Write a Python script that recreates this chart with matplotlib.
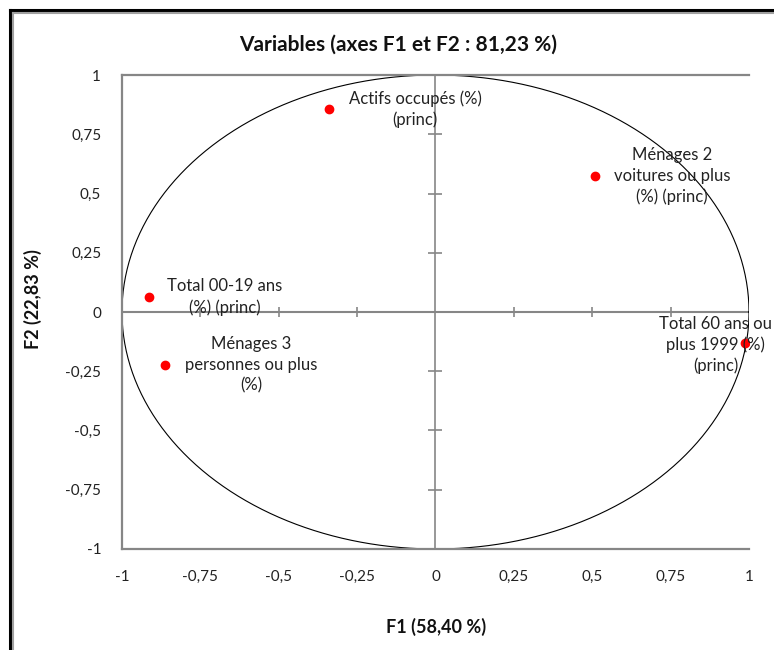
import numpy as np
import matplotlib
matplotlib.use("Agg")
from matplotlib import pyplot as plt
from matplotlib.lines import Line2D

plt.rcParams['font.family'] = ['Lato', 'DejaVu Sans']

# correlation circle data
labels = ["Actifs occupés (%)\n(princ)",
          "Ménages 2\nvoitures ou plus\n(%) (princ)",
          "Total 00-19 ans\n(%) (princ)",
          "Ménages 3\npersonnes ou plus\n(%)",
          "Total 60 ans ou\nplus 1999 (%)\n(princ)"]
f1 = [-0.339, 0.508, -0.914, -0.863, 0.987]
f2 = [0.857, 0.574, 0.063, -0.224, -0.131]
ticks = [-1, -0.75, -0.5, -0.25, 0, 0.25, 0.5, 0.75, 1]
tick_labels = ["-1", "-0,75", "-0,5", "-0,25", "0", "0,25", "0,5", "0,75", "1"]

# label offsets in pixels (centre of text block relative to point)
offsets = [(86, 0), (77, 0), (76, 0), (86, 0), (-29, -2)]

gray = "#868686"

fig = plt.figure(figsize=(7.74, 6.5), dpi=100)
ax = fig.add_axes([0.1576, 0.1554, 0.8101, 0.7292])

# circle
t = np.linspace(0, 2 * np.pi, 400)
ax.plot(np.cos(t), np.sin(t), color="black", lw=0.8, zorder=2)

# zero axes with crossing ticks
ax.axhline(0, color=gray, lw=1.5, zorder=1)
ax.axvline(0, color=gray, lw=1.2, zorder=1)
inner = [v for v in ticks if v not in (-1, 0, 1)]
ax.plot(inner, np.zeros(len(inner)), ls="none", marker="|", ms=7.5,
        mew=1.2, color=gray, zorder=1)
ax.plot(np.zeros(len(inner)), inner, ls="none", marker="_", ms=10,
        mew=1.2, color=gray, zorder=1)

ax.plot(f1, f2, ls="none", marker="o", ms=6, color="#ff0000", zorder=3)
for i, lab in enumerate(labels):
    ax.annotate(lab, xy=(f1[i], f2[i]), xytext=offsets[i],
                textcoords="offset pixels", ha="center", va="center",
                multialignment="center", fontsize=12, linespacing=1.35,
                color="#222222", annotation_clip=False, clip_on=False)

ax.set_xlim(-1, 1)
ax.set_ylim(-1, 1)
ax.set_xticks(ticks)
ax.set_xticklabels(tick_labels)
ax.set_yticks(ticks)
ax.set_yticklabels(tick_labels)
ax.tick_params(length=0, pad=15, labelsize=11, labelcolor="#222222")
for s in ["left", "top", "bottom"]:
    ax.spines[s].set_color(gray)
    ax.spines[s].set_linewidth(1.6)
ax.spines["right"].set_visible(False)

fig.text(0.514, 0.931, "Variables (axes F1 et F2 : 81,23 %)", ha="center",
         va="center", fontsize=15, fontweight="bold", color="#111111")
fig.text(0.563, 0.035, "F1 (58,40 %)", ha="center", va="center",
         fontsize=13, fontweight="bold", color="#111111")
fig.text(0.043, 0.54, "F2 (22,83 %)", ha="center", va="center",
         rotation=90, fontsize=13, fontweight="bold", color="#111111")

# outer frame (top and left only, picture is cropped)
fig.add_artist(Line2D([10 / 774, 10 / 774], [0, 1 - 10 / 650],
                      transform=fig.transFigure, color="black", lw=2.2))
fig.add_artist(Line2D([10 / 774, 1], [1 - 10 / 650, 1 - 10 / 650],
                      transform=fig.transFigure, color="black", lw=2.2))
fig.add_artist(Line2D([13 / 774, 13 / 774], [0, 1 - 13 / 650],
                      transform=fig.transFigure, color="#a0a0a0", lw=1.5))
fig.add_artist(Line2D([13 / 774, 1], [1 - 13 / 650, 1 - 13 / 650],
                      transform=fig.transFigure, color="#a0a0a0", lw=1.5))

fig.savefig("out.png", dpi=100)
plt.close()
